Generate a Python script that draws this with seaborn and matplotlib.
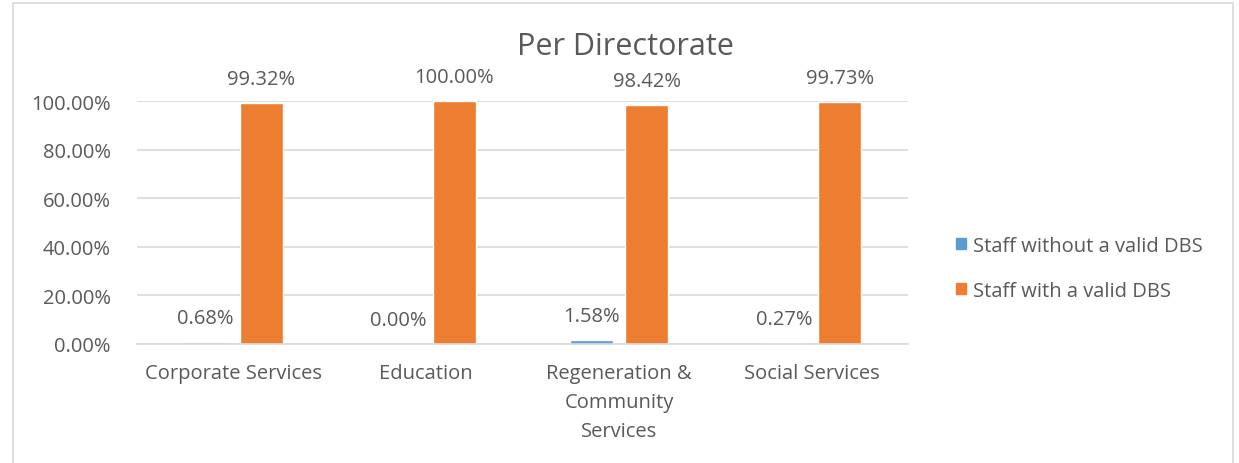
import matplotlib.pyplot as plt
import matplotlib.patches as mpatches
import pandas as pd
import seaborn as sns

directorates = ["Corporate Services", "Education", "Regeneration &\nCommunity\nServices", "Social Services"]
without_dbs = [0.0068, 0.0000, 0.0158, 0.0027]
with_dbs = [0.9932, 1.0000, 0.9842, 0.9973]
series = ["Staff without a valid DBS", "Staff with a valid DBS"]
colors = ["#5B9BD5", "#ED7D31"]
y_ticks = [0.0, 0.2, 0.4, 0.6, 0.8, 1.0]

df = pd.concat([
    pd.DataFrame({"directorate": directorates, "share": without_dbs, "type": series[0]}),
    pd.DataFrame({"directorate": directorates, "share": with_dbs, "type": series[1]}),
])

sns.set_theme(style="white")
plt.rcParams["font.family"] = ["Open Sans", "DejaVu Sans"]
text_col = "#595959"
fs = 14.5

fig = plt.figure(figsize=(12.39, 4.64), dpi=100)
ax = fig.add_axes([0.1106, 0.2565, 0.6224, 0.5235])

sns.barplot(data=df, x="directorate", y="share", hue="type", palette=colors,
            width=0.58, gap=0.23, ax=ax, legend=False, saturation=1)

for cont in ax.containers:
    ax.bar_label(cont, labels=[f"{v * 100:.2f}%" for v in cont.datavalues],
                 padding=10, fontsize=fs, color=text_col)

ax.set_ylim(0, 1.0)
ax.set_yticks(y_ticks)
ax.set_yticklabels([f"{t * 100:.2f}%" for t in y_ticks], fontsize=fs, color=text_col)
ax.tick_params(axis="x", labelsize=fs, colors=text_col, length=0, pad=14)
ax.tick_params(axis="y", length=0, pad=19)
for lbl in ax.get_xticklabels():
    lbl.set_linespacing(1.6)
ax.set_xlabel("")
ax.set_ylabel("")
ax.grid(axis="y", color="#d9d9d9", linewidth=1.2)
ax.set_axisbelow(True)
for side in ["left", "right", "top"]:
    ax.spines[side].set_visible(False)
ax.spines["bottom"].set_color("#d9d9d9")
ax.spines["bottom"].set_linewidth(1.2)

fig.text(0.505, 0.898, "Per Directorate", ha="center", va="center", fontsize=22, color=text_col)

handles = [mpatches.Patch(color=c, label=s) for c, s in zip(colors, series)]
leg = fig.legend(handles=handles, loc="center left", bbox_to_anchor=(0.757, 0.42),
                 frameon=False, fontsize=fs, handlelength=0.5, handleheight=0.5,
                 handletextpad=0.35, labelspacing=1.25)
for t in leg.get_texts():
    t.set_color(text_col)

fig.patches.append(mpatches.Rectangle((0.0105, -0.01), 0.9847, 1.0014, transform=fig.transFigure,
                                      fill=False, edgecolor="#d9d9d9", linewidth=1.2))

fig.savefig("out.png", dpi=100)
